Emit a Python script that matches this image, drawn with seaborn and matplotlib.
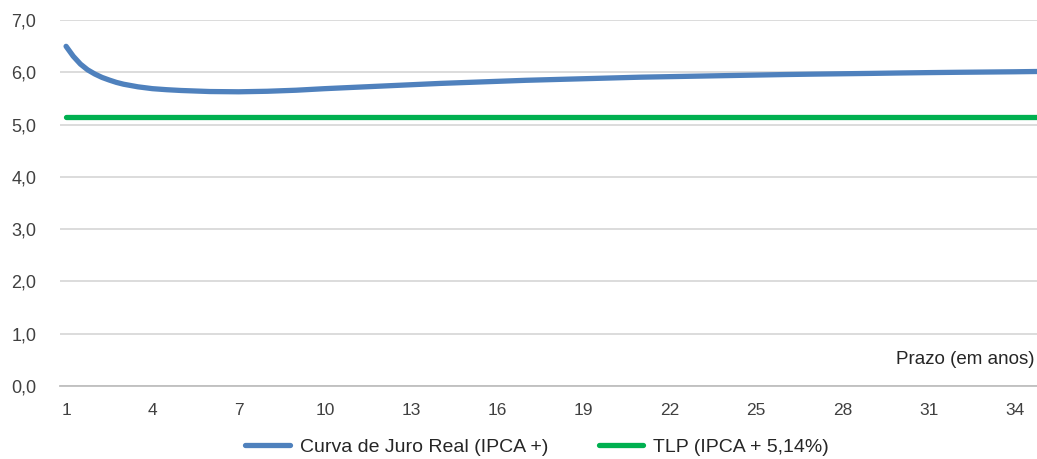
import numpy as np
import pandas as pd
import matplotlib
matplotlib.use("Agg")
import matplotlib.pyplot as plt
import seaborn as sns
from matplotlib.ticker import FuncFormatter, FixedLocator

# prazo em anos e taxa real (% a.a.)
prazo = [1, 1.25, 1.5, 1.75, 2, 2.25, 2.5, 2.75, 3, 3.5, 4, 4.5, 5, 6, 7, 8, 9, 10,
         11, 12, 13, 14, 15, 16, 17, 18, 19, 20, 21, 22, 23, 24, 25, 26, 27, 28, 29,
         30, 31, 32, 33, 34, 35]
juro_real = [6.50, 6.31, 6.16, 6.05, 5.97, 5.905, 5.855, 5.81, 5.775, 5.725, 5.69,
             5.67, 5.655, 5.635, 5.63, 5.64, 5.66, 5.69, 5.715, 5.74, 5.765, 5.79,
             5.81, 5.83, 5.85, 5.865, 5.88, 5.895, 5.91, 5.92, 5.93, 5.94, 5.95,
             5.96, 5.968, 5.975, 5.982, 5.99, 5.997, 6.003, 6.008, 6.013, 6.02]
tlp = 5.14
xticks = list(range(1, 35, 3))
yticks = [0, 1, 2, 3, 4, 5, 6, 7]

blue = "#4F81BD"
green = "#00B050"
txt = "#404040"

sns.set_style("white")
plt.rcParams["font.family"] = ["Liberation Sans", "DejaVu Sans"]

df = pd.DataFrame({"prazo": prazo, "juro": juro_real})
df_tlp = pd.DataFrame({"prazo": [prazo[0], prazo[-1]], "tlp": [tlp, tlp]})

fig = plt.figure(figsize=(10.37, 4.59), dpi=100)
ax = fig.add_axes([0.0579, 0.159, 0.9421, 0.797])

sns.lineplot(data=df, x="prazo", y="juro", color=blue, linewidth=3.8, ax=ax,
             label="Curva de Juro Real (IPCA +)", solid_capstyle="round",
             solid_joinstyle="round")
sns.lineplot(data=df_tlp, x="prazo", y="tlp", color=green, linewidth=3.8, ax=ax,
             label="TLP (IPCA + 5,14%)")

ax.set_xlim(0.79, 34.77)
ax.set_ylim(0, 7)
ax.set_yticks(yticks)
ax.yaxis.set_major_formatter(FuncFormatter(lambda v, p: f"{v:.1f}".replace(".", ",")))
ax.set_xticks(xticks)
ax.xaxis.set_minor_locator(FixedLocator([t - 0.21 for t in xticks]))
ax.tick_params(axis="x", which="major", length=0, pad=12, labelsize=12.5, labelcolor=txt)
ax.tick_params(axis="x", which="minor", length=6, width=1.2, color="#BFBFBF", direction="out")
ax.tick_params(axis="y", length=0, pad=17, labelsize=13, labelcolor=txt)
ax.grid(axis="y", color="#D9D9D9", linewidth=1.3)
ax.set_axisbelow(True)
for s in ["top", "right", "left"]:
    ax.spines[s].set_visible(False)
ax.spines["bottom"].set_color("#BFBFBF")
ax.spines["bottom"].set_linewidth(1.3)
ax.set_xlabel("")
ax.set_ylabel("")

fig.text(0.998, 0.216, "Prazo (em anos)", fontsize=13.5, color="#262626",
         ha="right", va="center")

ax.legend(loc="center", bbox_to_anchor=(0.518, 0.026), bbox_transform=fig.transFigure,
          ncol=2, frameon=False, fontsize=14, handlelength=2.3, handletextpad=0.5,
          columnspacing=2.6, labelcolor="#262626")

fig.savefig("out.png", dpi=100)
